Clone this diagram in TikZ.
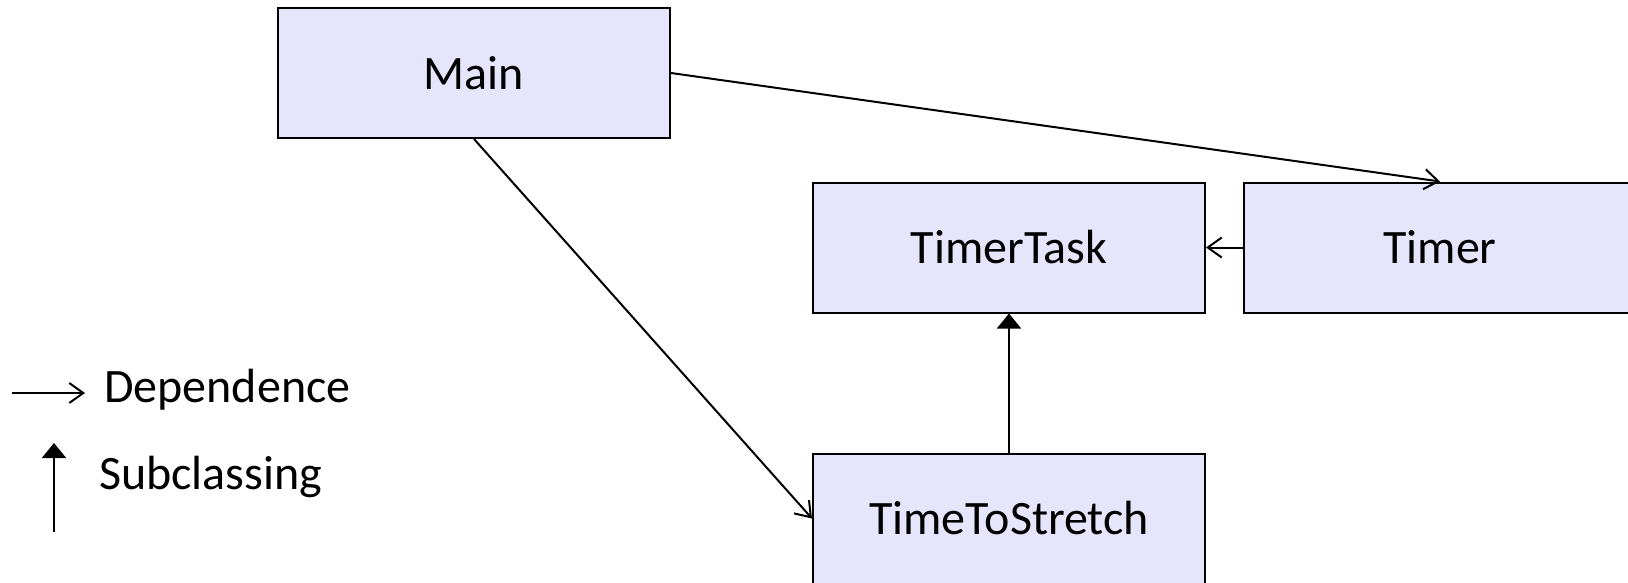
\documentclass[tikz,border=0pt]{standalone}
\usepackage{fontspec}
\setmainfont{Carlito}
\usetikzlibrary{arrows.meta}
\definecolor{classfill}{RGB}{229,229,251}
\tikzset{
  classbox/.style={draw=black, line width=2pt, fill=classfill,
    minimum width=392pt, minimum height=130pt, inner sep=0pt,
    font=\fontsize{48}{58}\selectfont},
  depends/.style={draw, line width=2pt, -{Straight Barb[length=14pt,width=20pt,line width=2pt]}},
  subclass/.style={draw, line width=2pt, -{Triangle[length=15pt,width=24pt]}},
  legendtext/.style={font=\fontsize{48}{58}\selectfont, inner sep=0pt, anchor=base west}
}
\begin{document}
\begin{tikzpicture}[x=1pt,y=-1pt]
  \useasboundingbox (0,0) rectangle (1628,582);
  \begin{scope}
    \clip (0,0) rectangle (1628,582);
    % class boxes
    \node[classbox] (main) at (474,73) {Main};
    \node[classbox] (timertask) at (1009,247.5) {TimerTask};
    \node[classbox] (timer) at (1440,247.5) {Timer};
    \node[classbox] (tts) at (1009,518.5) {TimeToStretch};
    % relations
    \draw[depends] (main.east) -- (timer.north);
    \draw[depends] (main.south) -- (tts.west);
    \draw[depends] (timer.west) -- (timertask.east);
    \draw[subclass] (tts.north) -- (timertask.south);
    % legend
    \coordinate (depA) at (12,393);
    \coordinate (depB) at (85,393);
    \coordinate (subA) at (54,532);
    \coordinate (subB) at (54,443);
    \draw[depends] (depA) -- (depB);
    \draw[subclass] (subA) -- (subB);
    \node[legendtext] (deplabel) at (104,402) {Dependence};
    \node[legendtext] (sublabel) at (99,489) {Subclassing};
  \end{scope}
\end{tikzpicture}
\end{document}
